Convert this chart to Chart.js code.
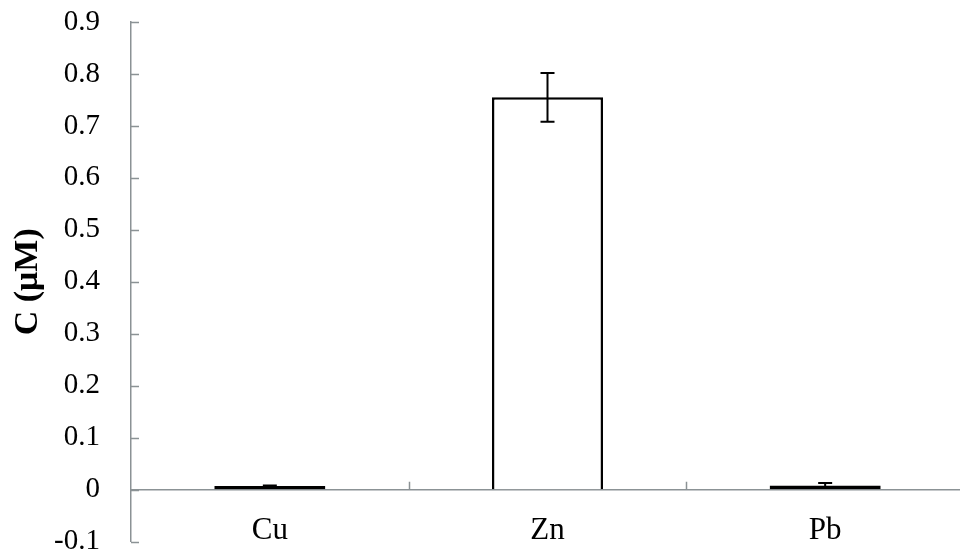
<!DOCTYPE html>
<html>
<head>
<meta charset="utf-8">
<script src="https://cdn.jsdelivr.net/npm/chart.js@4.4.1/dist/chart.umd.min.js"></script>
<style>
  html, body { margin: 0; padding: 0; background: #fff; overflow: hidden; }
  #wrap { width: 964px; height: 559px; position: relative; }
</style>
</head>
<body>
<div id="wrap"><canvas id="c"></canvas></div>
<script>
// Metal concentrations (µM) with standard deviations
const metals = ['Cu', 'Zn', 'Pb'];
const concentration = [0.007, 0.755, 0.008];
const stdDev = [0.001, 0.047, 0.005];
const yTicks = [-0.1, 0, 0.1, 0.2, 0.3, 0.4, 0.5, 0.6, 0.7, 0.8, 0.9];

const AXIS_COLOR = '#8b9295';
const SERIF = '"Liberation Serif", "Times New Roman", serif';

// Error bars with caps, drawn in data space through the chart scales
const errorBars = {
  id: 'errorBars',
  afterDatasetsDraw(chart) {
    const { ctx, scales: { x, y } } = chart;
    const ds = chart.data.datasets[0];
    ctx.save();
    ctx.strokeStyle = '#000';
    ctx.lineWidth = 2;
    ds.data.forEach((v, i) => {
      const e = ds.errors[i];
      const px = x.getPixelForValue(i);
      const top = y.getPixelForValue(v + e);
      const bot = y.getPixelForValue(v - e);
      const cap = 7;
      ctx.beginPath();
      ctx.moveTo(px, top); ctx.lineTo(px, bot);
      ctx.moveTo(px - cap, top); ctx.lineTo(px + cap, top);
      ctx.moveTo(px - cap, bot); ctx.lineTo(px + cap, bot);
      ctx.stroke();
    });
    ctx.restore();
  }
};

// Inward tick marks: right of the value axis, upward from the zero line
const innerTicks = {
  id: 'innerTicks',
  afterDraw(chart) {
    const { ctx, scales: { x, y } } = chart;
    const left = chart.chartArea.left;
    const zero = y.getPixelForValue(0);
    ctx.save();
    ctx.strokeStyle = AXIS_COLOR;
    ctx.lineWidth = 1.5;
    ctx.beginPath();
    yTicks.forEach(t => {
      const py = Math.round(y.getPixelForValue(t)) + 0.5;
      ctx.moveTo(left, py); ctx.lineTo(left + 8, py);
    });
    for (let i = 0; i < metals.length - 1; i++) {
      const bx = Math.round((x.getPixelForValue(i) + x.getPixelForValue(i + 1)) / 2) + 0.5;
      ctx.moveTo(bx, zero); ctx.lineTo(bx, zero - 8);
    }
    ctx.stroke();
    ctx.restore();
  }
};

new Chart(document.getElementById('c'), {
  type: 'bar',
  data: {
    labels: metals,
    datasets: [{
      data: concentration,
      errors: stdDev,
      backgroundColor: '#ffffff',
      borderColor: '#000000',
      borderWidth: 2.5,
      // tall bars sit open on the axis line; near-zero bars are fully outlined
      borderSkipped: ctx => (ctx.raw > 0.1 ? 'start' : false),
      barPercentage: 0.4,
      categoryPercentage: 1.0
    }]
  },
  options: {
    responsive: true,
    maintainAspectRatio: false,
    animation: false,
    layout: { padding: { top: 22, right: 0, bottom: 0, left: 0 } },
    plugins: { legend: { display: false }, tooltip: { enabled: false } },
    scales: {
      x: {
        position: { y: 0 },
        grid: { display: true, drawOnChartArea: false, drawTicks: false },
        border: { display: true, color: AXIS_COLOR, width: 1.5 },
        ticks: {
          color: '#000',
          padding: 23,
          font: { family: SERIF, size: 31 }
        },
        afterFit(s) { s.height = 16; }
      },
      y: {
        min: -0.1,
        max: 0.9,
        afterBuildTicks(s) { s.ticks = yTicks.map(v => ({ value: v })); },
        grid: {
          display: true,
          drawOnChartArea: false,
          drawTicks: true,
          tickLength: 31,
          tickColor: 'rgba(0,0,0,0)'
        },
        border: { display: true, color: AXIS_COLOR, width: 1.5 },
        ticks: {
          color: '#000',
          padding: 0,
          font: { family: SERIF, size: 29 },
          callback: v => String(Math.round(v * 10) / 10)
        },
        title: {
          display: true,
          text: 'C (μM)',
          color: '#000',
          font: { family: SERIF, size: 34, weight: 'bold', lineHeight: 1 },
          padding: { top: 11, bottom: 0 }
        },
        afterFit(s) { s.width = 131; }
      }
    }
  },
  plugins: [errorBars, innerTicks]
});
</script>
</body>
</html>
